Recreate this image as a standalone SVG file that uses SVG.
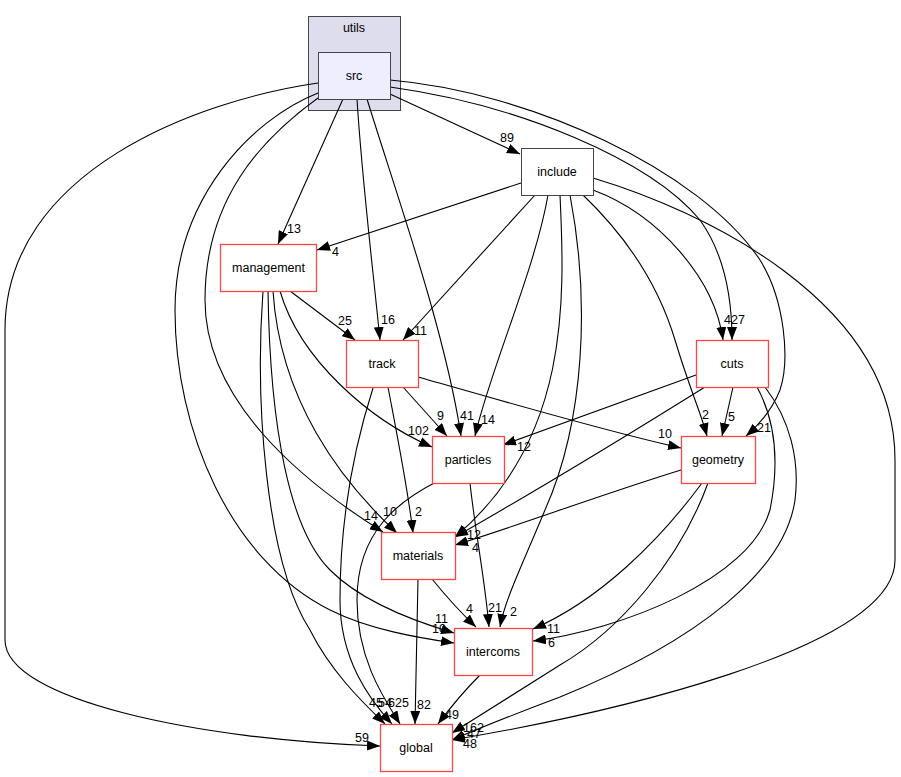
<svg xmlns="http://www.w3.org/2000/svg" width="901" height="777" viewBox="0 0 901 777">
<defs>
<marker id="ah" markerUnits="userSpaceOnUse" markerWidth="13" markerHeight="10" viewBox="0 0 13 10" refX="13" refY="5" orient="auto">
<path d="M0,0 L13,5 L0,10 Z" fill="#000"/>
</marker>
<style>
text{font-family:"Liberation Sans",Arial,sans-serif;font-size:12.5px;fill:#000}
.n text{text-anchor:middle}
.red{fill:#fff;stroke:#ff4444;stroke-width:1.3}
.edges path{fill:none;stroke:#000;stroke-width:1.1;marker-end:url(#ah)}
</style>
</defs>
<rect width="901" height="777" fill="#fff"/>
<g id="cluster_utils">
<rect x="308.5" y="16.5" width="92" height="94" fill="#ddddee" stroke="#444"/>
<text x="354" y="32" text-anchor="middle">utils</text>
</g>
<g id="edges" class="edges">
<path d="M390,94 L520,154"/>
<path d="M343,99 L278,244"/>
<path d="M357,99 C362,180 372,260 380,340"/>
<path d="M367,99 C395,190 445,330 461,436"/>
<path d="M390,87 C520,105 650,160 700,220 C725,255 732,300 732,340"/>
<path d="M390,80 C530,92 700,170 760,260 C785,300 790,360 780,390 C772,410 760,424 746,436"/>
<path d="M318,83 C200,100 5,170 5,330 L5,640 C5,700 200,740 380,746"/>
<path d="M318,93 C250,120 175,200 175,310 C175,430 230,560 330,610 C370,630 420,638 454,643"/>
<path d="M318,98 C260,140 205,200 205,300 C205,400 300,480 383,532"/>
<path d="M521,183 L317,250"/>
<path d="M535,195 L403,340"/>
<path d="M548,195 C535,270 490,370 475,436"/>
<path d="M560,195 C565,300 570,440 455,537"/>
<path d="M570,195 C590,300 585,420 545,510 C520,570 505,600 500,627"/>
<path d="M593,190 C660,215 715,280 723,340"/>
<path d="M583,195 C630,240 660,290 675,340 C690,390 700,410 707,436"/>
<path d="M593,178 C700,210 895,300 895,460 L895,560 C895,650 600,715 452,740"/>
<path d="M290,291 L355,340"/>
<path d="M280,291 C300,360 370,420 432,447"/>
<path d="M273,291 C280,400 340,480 397,533"/>
<path d="M268,291 C270,430 290,530 330,570 C360,600 410,620 454,633"/>
<path d="M263,291 C255,400 265,560 310,630 C330,670 360,700 385,724"/>
<path d="M403,387 L447,436"/>
<path d="M388,387 C398,440 408,490 413,533"/>
<path d="M418,377 C500,400 600,430 681,448"/>
<path d="M373,388 C350,460 340,530 340,600 C340,660 370,700 392,724"/>
<path d="M470,483 C475,530 485,580 489,627"/>
<path d="M440,480 C400,500 357,530 357,600 C357,660 385,700 400,724"/>
<path d="M696,375 L503,445"/>
<path d="M705,387 C620,440 520,500 455,537"/>
<path d="M733,387 L722,436"/>
<path d="M757,387 C775,420 780,460 770,510 C750,580 620,630 533,641"/>
<path d="M765,387 C790,420 800,460 795,500 C785,570 700,640 560,697 C520,712 480,728 452,740"/>
<path d="M681,470 C600,495 520,525 455,545"/>
<path d="M702,483 C660,540 600,600 533,629"/>
<path d="M708,483 C680,560 620,630 560,665 C520,690 480,715 452,733"/>
<path d="M432,579 C445,595 460,612 476,627"/>
<path d="M418,579 L415,724"/>
<path d="M480,675 C465,690 450,708 438,724"/>
</g>
<g id="edge_labels">
<text x="500" y="142">89</text>
<text x="287" y="233">13</text>
<text x="332" y="256">4</text>
<text x="338" y="325">25</text>
<text x="381" y="324">16</text>
<text x="414" y="335">11</text>
<text x="437" y="420">9</text>
<text x="460" y="420">41</text>
<text x="481" y="424">14</text>
<text x="408" y="435">102</text>
<text x="517" y="451">12</text>
<text x="724" y="324">4</text>
<text x="731" y="324">27</text>
<text x="702" y="419">2</text>
<text x="728" y="421">5</text>
<text x="757" y="432">21</text>
<text x="658" y="438">10</text>
<text x="364" y="520">14</text>
<text x="383" y="516">10</text>
<text x="415" y="516">2</text>
<text x="467" y="539">12</text>
<text x="472" y="552">4</text>
<text x="435" y="623">11</text>
<text x="432" y="633">10</text>
<text x="466" y="613">4</text>
<text x="488" y="612">21</text>
<text x="510" y="616">2</text>
<text x="547" y="633">11</text>
<text x="548" y="647">6</text>
<text x="355" y="742">59</text>
<text x="369" y="707">45</text>
<text x="378" y="707">54</text>
<text x="388" y="707">625</text>
<text x="417" y="709">82</text>
<text x="445" y="719">49</text>
<text x="463" y="732">162</text>
<text x="467" y="738">47</text>
<text x="463" y="748">48</text>
</g>
<g id="node_src" class="n">
<rect x="318.5" y="52.5" width="72" height="47" fill="#eeeeff" stroke="#444"/>
<text x="354" y="80">src</text>
</g>
<g id="node_include" class="n">
<rect x="521.5" y="148.5" width="72" height="47" fill="#fff" stroke="#444"/>
<text x="557" y="176">include</text>
</g>
<g id="node_management" class="n">
<rect class="red" x="220.5" y="244.5" width="96" height="47"/>
<text x="268.5" y="272">management</text>
</g>
<g id="node_track" class="n">
<rect class="red" x="346.5" y="340.5" width="72" height="47"/>
<text x="382" y="368">track</text>
</g>
<g id="node_cuts" class="n">
<rect class="red" x="696.5" y="340.5" width="72" height="47"/>
<text x="732" y="368">cuts</text>
</g>
<g id="node_particles" class="n">
<rect class="red" x="432.5" y="436.5" width="72" height="47"/>
<text x="468" y="464">particles</text>
</g>
<g id="node_geometry" class="n">
<rect class="red" x="681.5" y="436.5" width="74" height="47"/>
<text x="718" y="464">geometry</text>
</g>
<g id="node_materials" class="n">
<rect class="red" x="381.5" y="532.5" width="74" height="47"/>
<text x="418" y="560">materials</text>
</g>
<g id="node_intercoms" class="n">
<rect class="red" x="454.5" y="628.5" width="78" height="47"/>
<text x="493" y="656">intercoms</text>
</g>
<g id="node_global" class="n">
<rect class="red" x="380.5" y="724.5" width="72" height="47"/>
<text x="416" y="752">global</text>
</g>
</svg>
